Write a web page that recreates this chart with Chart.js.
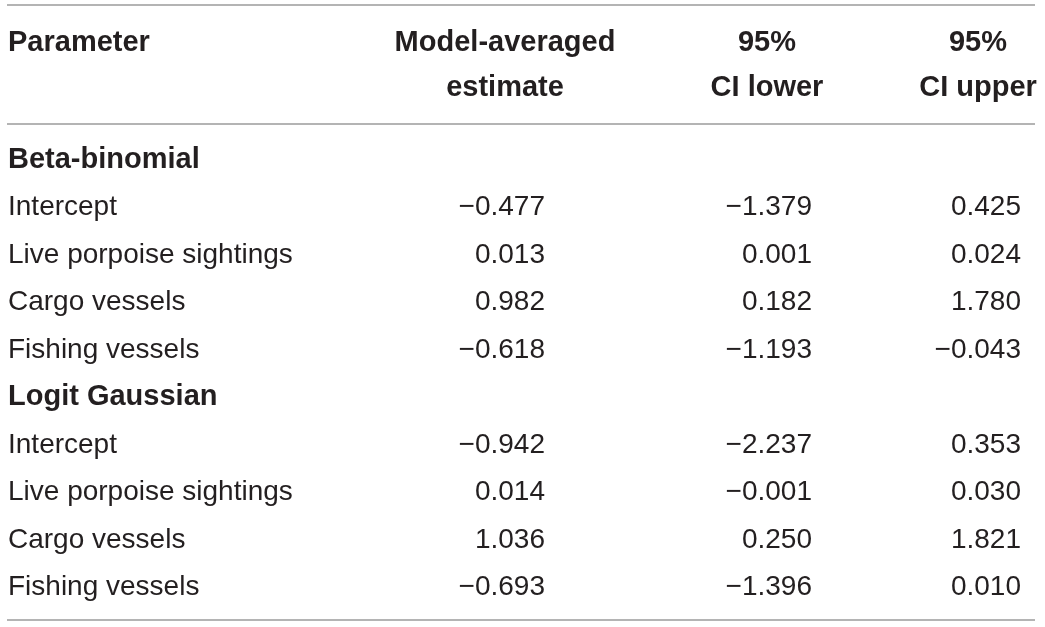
<!DOCTYPE html>
<html>
<head>
<meta charset="utf-8">
<script src="https://cdn.jsdelivr.net/npm/chart.js@4.4.1/dist/chart.umd.min.js"></script>
<style>
  html, body { margin: 0; padding: 0; background: #fff; }
  canvas { display: block; }
</style>
</head>
<body>
<canvas id="table" width="1045" height="627"></canvas>
<script>
// table contents
var groups = ['Beta-binomial', 'Logit Gaussian'];
var params = ['Intercept', 'Live porpoise sightings', 'Cargo vessels', 'Fishing vessels'];
var headers = [['Parameter', ''], ['Model-averaged', 'estimate'], ['95%', 'CI lower'], ['95%', 'CI upper']];

var betaEstimate = [-0.477, 0.013, 0.982, -0.618];
var betaLower = [-1.379, 0.001, 0.182, -1.193];
var betaUpper = [0.425, 0.024, 1.780, -0.043];

var logitEstimate = [-0.942, 0.014, 1.036, -0.693];
var logitLower = [-2.237, -0.001, 0.250, -1.396];
var logitUpper = [0.353, 0.030, 1.821, 0.010];

// layout (scale units)
var cellX = [8, 545, 812, 1021];
var headX = [8, 505, 767, 978];
var headY = [-2.456, -1.507];
var ruleY = [-3.436, -0.927, 9.528];

var boldFont = 'bold 29px "Liberation Sans", Arial, sans-serif';
var plainFont = '28px "Liberation Sans", Arial, sans-serif';
var ink = '#231f20';

function fmt(v) {
    if (v === null) return '';
    return v < 0 ? '\u2212' + Math.abs(v).toFixed(3) : v.toFixed(3);
}

// build body rows: group title followed by its parameters
var rowLabels = [], rowBold = [];
var cols = [[], [], []];
var seriesByGroup = [
    [betaEstimate, betaLower, betaUpper],
    [logitEstimate, logitLower, logitUpper]
];
groups.forEach(function (g, gi) {
    rowLabels.push(g); rowBold.push(true);
    cols.forEach(function (c) { c.push(null); });
    params.forEach(function (p, pi) {
        rowLabels.push(p); rowBold.push(false);
        cols.forEach(function (c, ci) { c.push(seriesByGroup[gi][ci][pi]); });
    });
});

var datasets = [];

// horizontal rules
ruleY.forEach(function (y) {
    datasets.push({
        type: 'line',
        data: [{x: 7, y: y}, {x: 1035, y: y}],
        borderColor: '#9b9b9b',
        borderWidth: 1.5,
        pointRadius: 0
    });
});

// header cells
headers.forEach(function (h, i) {
    datasets.push({
        type: 'scatter',
        data: h.map(function (t, k) { return {x: headX[i], y: headY[k]}; }),
        texts: h,
        fonts: h.map(function () { return boldFont; }),
        align: i === 0 ? 'left' : 'center',
        pointRadius: 0
    });
});

// first column
datasets.push({
    type: 'scatter',
    data: rowLabels.map(function (t, r) { return {x: cellX[0], y: r}; }),
    texts: rowLabels,
    fonts: rowBold.map(function (b) { return b ? boldFont : plainFont; }),
    align: 'left',
    pointRadius: 0
});

// numeric columns
cols.forEach(function (c, ci) {
    datasets.push({
        type: 'scatter',
        data: c.map(function (v, r) { return {x: cellX[ci + 1], y: r}; }),
        texts: c.map(fmt),
        fonts: c.map(function () { return plainFont; }),
        align: 'right',
        pointRadius: 0
    });
});

var cellText = {
    id: 'cellText',
    afterDatasetsDraw: function (chart) {
        var ctx = chart.ctx;
        ctx.save();
        ctx.fillStyle = ink;
        ctx.textBaseline = 'alphabetic';
        chart.data.datasets.forEach(function (ds, i) {
            if (!ds.texts) return;
            var meta = chart.getDatasetMeta(i);
            meta.data.forEach(function (pt, k) {
                if (!ds.texts[k]) return;
                ctx.font = ds.fonts[k];
                ctx.textAlign = ds.align;
                ctx.fillText(ds.texts[k], pt.x, pt.y);
            });
        });
        ctx.restore();
    }
};

var ctx = document.getElementById('table').getContext('2d');
var myChart = new Chart(ctx, {
    data: { datasets: datasets },
    options: {
        responsive: false,
        animation: false,
        devicePixelRatio: 1,
        layout: { padding: 0 },
        plugins: {
            legend: { display: false },
            tooltip: { enabled: false }
        },
        scales: {
            x: { type: 'linear', min: 0, max: 1045, display: false },
            y: { type: 'linear', min: -3.541, max: 9.675, reverse: true, display: false }
        }
    },
    plugins: [cellText]
});
</script>
</body>
</html>
